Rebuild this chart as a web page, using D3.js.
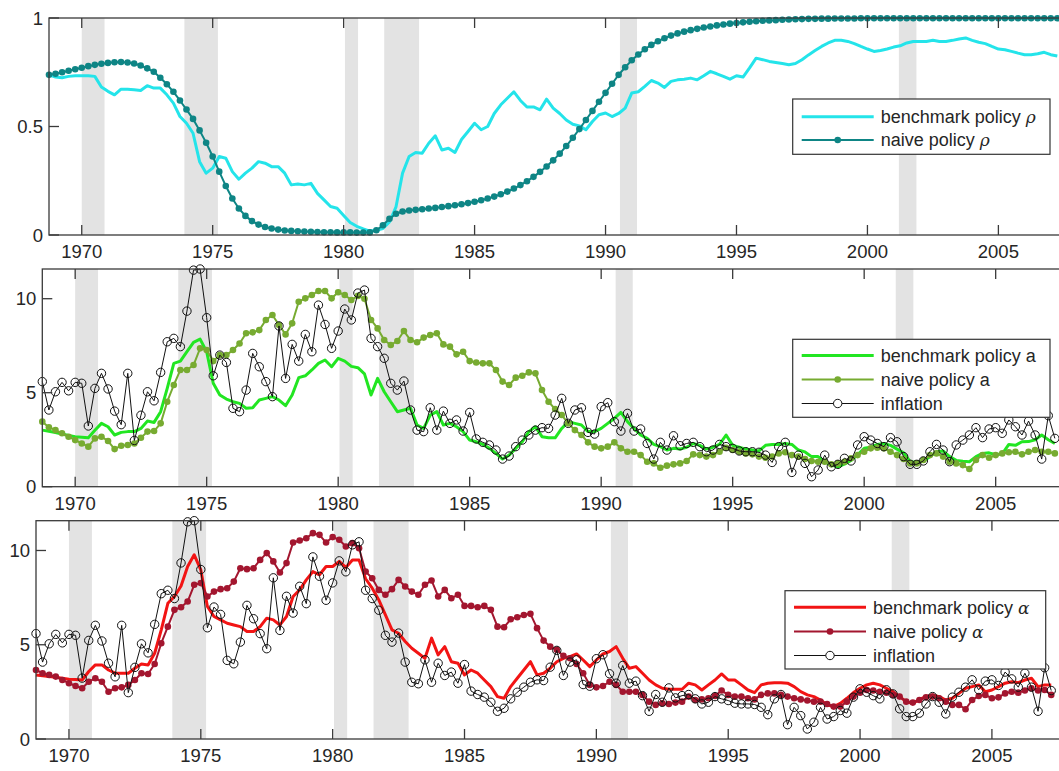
<!DOCTYPE html>
<html>
<head>
<meta charset="utf-8">
<script src="https://cdn.jsdelivr.net/npm/d3@7"></script>
<style>
  body { margin: 0; background: #fff; }
  svg { display: block; }
  text { font-family: "Liberation Sans", Arial, Helvetica, sans-serif; fill: #262626; }
</style>
</head>
<body>
<svg id="chart" width="1059" height="771"></svg>
<script>
// Quarterly observations, first quarter 1968Q4 (1968.75), one row per calendar year.
const firstQuarter = 1968.75;

const benchmarkRho = [
  0.738,
  0.728, 0.725, 0.731, 0.734,
  0.734, 0.734, 0.731, 0.682,
  0.662, 0.646, 0.672, 0.672,
  0.669, 0.666, 0.688, 0.677,
  0.677, 0.646, 0.608, 0.546,
  0.515, 0.469, 0.338, 0.285,
  0.308, 0.362, 0.354, 0.292,
  0.257, 0.285, 0.308, 0.338,
  0.331, 0.315, 0.315, 0.285,
  0.231, 0.235, 0.231, 0.238,
  0.192, 0.162, 0.131, 0.123,
  0.090, 0.058, 0.040, 0.028,
  0.018, 0.022, 0.030, 0.060,
  0.130, 0.285, 0.362, 0.380,
  0.377, 0.423, 0.457, 0.392,
  0.400, 0.380, 0.440, 0.477,
  0.515, 0.485, 0.500, 0.560,
  0.600, 0.630, 0.660, 0.620,
  0.590, 0.590, 0.577, 0.626,
  0.585, 0.560, 0.530, 0.510,
  0.503, 0.485, 0.523, 0.554,
  0.562, 0.546, 0.560, 0.585,
  0.654, 0.660, 0.685, 0.712,
  0.700, 0.680, 0.708, 0.715,
  0.718, 0.723, 0.715, 0.734,
  0.754, 0.743, 0.731, 0.718,
  0.734, 0.728, 0.770, 0.815,
  0.808, 0.800, 0.795, 0.790,
  0.785, 0.790, 0.808, 0.830,
  0.850, 0.869, 0.885, 0.897,
  0.897, 0.892, 0.882, 0.869,
  0.857, 0.846, 0.850, 0.857,
  0.866, 0.872, 0.885, 0.892,
  0.892, 0.892, 0.897, 0.892,
  0.892, 0.897, 0.903, 0.908,
  0.897, 0.888, 0.882, 0.869,
  0.857, 0.854, 0.846, 0.838,
  0.831, 0.831, 0.835, 0.842,
  0.831, 0.825
];

const naiveRho = [
  0.738,
  0.743, 0.750, 0.757, 0.764,
  0.771, 0.778, 0.784, 0.789,
  0.793, 0.796, 0.797, 0.795,
  0.790, 0.781, 0.768, 0.752,
  0.725, 0.695, 0.660, 0.620,
  0.578, 0.535, 0.482, 0.425,
  0.362, 0.292, 0.226, 0.168,
  0.122, 0.088, 0.064, 0.048,
  0.037, 0.030, 0.025, 0.021,
  0.019, 0.017, 0.016, 0.015,
  0.014, 0.013, 0.013, 0.012,
  0.012, 0.012, 0.011, 0.011,
  0.012, 0.022, 0.045, 0.075,
  0.098, 0.108, 0.113, 0.116,
  0.119, 0.122, 0.125, 0.129,
  0.133, 0.137, 0.142, 0.147,
  0.153, 0.160, 0.168, 0.177,
  0.188, 0.200, 0.214, 0.230,
  0.248, 0.268, 0.291, 0.316,
  0.344, 0.375, 0.410, 0.448,
  0.488, 0.530, 0.572, 0.614,
  0.655, 0.697, 0.738, 0.773,
  0.805, 0.832, 0.856, 0.876,
  0.893, 0.907, 0.919, 0.929,
  0.937, 0.944, 0.950, 0.956,
  0.961, 0.966, 0.970, 0.974,
  0.977, 0.980, 0.983, 0.985,
  0.987, 0.989, 0.990, 0.992,
  0.993, 0.994, 0.995, 0.996,
  0.996, 0.997, 0.997, 0.998,
  0.998, 0.998, 0.998, 0.999,
  0.999, 0.999, 0.999, 0.999,
  0.999, 0.999, 0.999, 0.999,
  0.999, 0.999, 0.999, 0.999,
  0.999, 0.999, 0.999, 0.999,
  0.999, 0.999, 0.999, 0.999,
  0.999, 0.999, 0.999, 0.999,
  0.999, 0.999, 0.999, 0.999,
  0.999, 0.999
];

const inflation = [
  5.59,
  4.08, 5.05, 5.55, 5.10,
  5.55, 5.50, 3.23, 5.23,
  6.03, 5.20, 4.02, 3.30,
  6.03, 2.46, 3.80, 5.05,
  4.57, 6.08, 7.71, 7.89,
  7.45, 9.34, 11.52, 11.58,
  8.99, 5.90, 7.00, 6.61,
  4.17, 3.99, 5.14, 7.09,
  6.38, 5.59, 4.79, 8.55,
  5.76, 7.57, 6.68, 8.10,
  7.18, 9.66, 8.63, 7.36,
  8.28, 9.45, 8.87, 10.30,
  10.46, 7.89, 7.45, 6.83,
  5.50, 5.14, 5.62, 4.08,
  3.01, 2.93, 4.20, 3.01,
  4.02, 3.37, 3.55, 2.96,
  3.95, 2.54, 2.36, 2.22,
  1.95, 1.47, 1.63, 2.13,
  2.48, 2.75, 3.01, 3.14,
  3.10, 3.81, 4.70, 3.37,
  4.08, 4.20, 2.89, 2.80,
  4.26, 4.47, 3.46, 2.96,
  3.90, 2.96, 3.07, 2.30,
  1.47, 2.36, 1.95, 2.71,
  2.18, 2.30, 2.36, 2.13,
  1.86, 1.95, 2.25, 2.13,
  2.04, 1.90, 1.86, 1.86,
  1.83, 1.68, 1.29, 2.13,
  2.36, 0.76, 1.68, 1.24,
  0.53, 0.89, 1.68, 1.06,
  1.19, 1.51, 1.37, 2.22,
  2.66, 2.48, 2.30, 2.13,
  2.61, 2.39, 1.60, 1.19,
  1.19, 1.37, 1.86, 2.25,
  1.95, 1.33, 2.22, 2.48,
  2.75, 3.14, 2.61, 3.07,
  3.14, 2.84, 3.55, 3.19,
  2.75, 3.49, 2.75, 1.47,
  3.78, 2.57
];

const benchmarkA = [
  3.01,
  2.95, 2.88, 2.80, 2.72,
  2.66, 2.63, 2.60, 3.00,
  3.37, 3.19, 2.75, 2.89,
  2.93, 2.93, 3.10, 3.49,
  3.42, 3.99, 5.23, 6.56,
  6.68, 7.18, 7.68, 7.85,
  7.18, 5.50, 4.88, 4.66,
  4.52, 4.43, 4.17, 4.20,
  4.61, 4.70, 4.79, 4.61,
  4.31, 4.88, 5.80, 5.90,
  6.21, 6.56, 6.74, 6.38,
  6.83, 6.68, 6.40, 6.33,
  6.00, 4.88, 5.76, 5.05,
  4.52, 3.99, 4.08, 4.17,
  3.28, 3.10, 3.81, 3.99,
  3.28, 3.37, 3.19, 2.93,
  2.48, 2.39, 2.25, 2.04,
  1.77, 1.47, 1.68, 2.04,
  2.39, 2.93, 3.19, 2.66,
  2.60, 2.60, 3.10, 3.46,
  3.37, 3.28, 2.93, 2.93,
  3.10, 3.37, 3.63, 3.95,
  3.46, 3.10, 2.75, 2.57,
  2.25, 2.13, 1.95, 2.04,
  2.00, 2.10, 2.30, 2.20,
  2.00, 2.10, 2.25, 2.75,
  2.20, 2.10, 2.00, 1.95,
  1.90, 2.20, 2.25, 2.25,
  2.30, 2.25, 1.95, 1.85,
  1.60, 1.60, 1.33, 1.15,
  1.06, 1.20, 1.40, 1.70,
  2.04, 2.10, 2.25, 2.30,
  2.20, 2.00, 1.80, 1.33,
  1.30, 1.35, 1.60, 1.86,
  1.90, 1.60, 1.40, 1.35,
  1.33, 1.60, 1.77, 1.80,
  1.70, 1.75, 2.25, 2.20,
  2.39, 2.40, 2.50, 2.75,
  2.50, 2.30
];

const naiveA = [
  3.46,
  3.16, 3.01, 2.84, 2.66,
  2.48, 2.30, 2.13, 2.57,
  2.66, 2.43, 2.00, 2.18,
  2.22, 2.30, 2.60, 2.93,
  2.96, 3.37, 4.52, 5.41,
  6.21, 6.21, 6.47, 7.36,
  7.27, 6.68, 7.00, 7.00,
  7.27, 7.62, 8.16, 8.21,
  8.33, 8.87, 9.13, 8.60,
  8.10, 8.69, 9.84, 10.02,
  10.20, 10.41, 10.41, 10.02,
  10.34, 10.20, 9.93, 10.15,
  10.00, 8.87, 8.42, 7.80,
  7.54, 7.75, 8.28, 7.80,
  7.68, 7.93, 8.07, 8.16,
  7.57, 7.45, 7.04, 7.18,
  6.68, 6.61, 6.56, 6.56,
  6.21, 5.59, 5.41, 5.80,
  5.90, 6.08, 6.03, 5.14,
  4.52, 4.13, 3.81, 3.37,
  3.01, 2.75, 2.36, 2.13,
  2.04, 2.13, 2.36, 2.04,
  1.86, 1.86, 1.68, 1.33,
  1.24, 1.01, 1.12, 1.19,
  1.24, 1.37, 1.72, 1.68,
  1.60, 1.68, 1.86, 2.07,
  1.95, 1.86, 1.77, 1.72,
  1.60, 1.54, 1.60, 1.77,
  1.83, 1.68, 1.60, 1.47,
  1.37, 1.33, 1.33, 1.19,
  1.24, 1.33, 1.51, 1.68,
  1.86, 2.04, 2.07, 2.04,
  1.86, 1.68, 1.47, 1.24,
  1.24, 1.42, 1.68, 1.77,
  1.60, 1.33, 1.24, 1.15,
  0.94, 1.42, 1.68, 1.54,
  1.68, 1.77, 1.83, 1.86,
  1.72, 1.86, 1.95, 1.86,
  1.86, 1.77
];

const benchmarkAlpha = [
  3.40,
  3.35, 3.31, 3.27, 3.22,
  3.17, 3.15, 3.13, 3.58,
  3.93, 3.93, 3.66, 3.49,
  3.49, 3.49, 3.75, 3.98,
  3.93, 4.55, 5.79, 7.20,
  7.56, 8.12, 9.15, 9.77,
  8.97, 7.03, 6.50, 6.32,
  6.14, 6.05, 5.96, 5.70,
  5.70, 5.96, 6.41, 6.32,
  6.05, 6.50, 7.56, 7.91,
  8.44, 8.88, 8.71, 9.15,
  9.15, 9.42, 9.10, 9.50,
  9.50, 8.50, 8.00, 7.38,
  6.58, 5.79, 5.61, 5.17,
  4.81, 4.55, 4.28, 5.35,
  4.46, 4.90, 4.10, 4.02,
  3.40, 3.66, 3.49, 3.13,
  2.78, 2.25, 2.16, 2.78,
  3.22, 3.66, 4.10, 3.40,
  3.49, 3.75, 4.10, 4.28,
  4.37, 4.51, 4.19, 3.84,
  4.19, 4.51, 4.64, 4.90,
  4.28, 3.75, 3.84, 3.49,
  3.13, 2.87, 2.69, 2.64,
  2.64, 2.64, 2.96, 2.87,
  2.60, 2.87, 3.13, 3.45,
  3.13, 3.13, 2.87, 2.60,
  2.46, 2.87, 2.96, 2.99,
  2.99, 2.96, 2.78, 2.51,
  2.34, 2.25, 2.07, 1.81,
  1.72, 1.89, 2.16, 2.46,
  2.69, 2.87, 2.96, 2.87,
  2.69, 2.51, 2.25, 1.98,
  1.89, 2.10, 2.25, 2.34,
  2.25, 2.07, 2.16, 2.42,
  2.69, 2.78, 2.87, 2.51,
  2.60, 2.78, 2.96, 3.04,
  2.99, 3.13, 3.22, 2.78,
  2.87, 2.87
];

const naiveAlpha = [
  3.66,
  3.49, 3.40, 3.31, 3.13,
  2.96, 2.81, 2.69, 3.04,
  3.22, 3.04, 2.51, 2.69,
  2.74, 2.87, 3.13, 3.49,
  3.45, 3.98, 5.08, 5.96,
  6.85, 6.99, 7.29, 8.18,
  8.27, 7.56, 7.82, 7.95,
  8.00, 8.35, 9.06, 9.01,
  9.06, 9.50, 9.86, 9.42,
  8.83, 9.33, 10.42, 10.53,
  10.65, 10.92, 10.83, 10.42,
  10.71, 10.57, 10.21, 10.39,
  10.12, 8.88, 8.53, 7.91,
  7.65, 7.95, 8.44, 8.09,
  7.82, 7.65, 8.18, 8.41,
  7.56, 7.91, 7.47, 7.65,
  7.06, 7.06, 6.99, 7.06,
  6.85, 5.96, 5.93, 6.35,
  6.46, 6.58, 6.64, 5.88,
  5.22, 4.90, 4.73, 4.41,
  4.28, 3.98, 3.49, 2.87,
  2.74, 2.81, 3.04, 2.87,
  2.51, 2.51, 2.51, 2.34,
  1.98, 1.81, 1.89, 1.86,
  1.93, 1.98, 2.25, 2.07,
  2.10, 2.16, 2.28, 2.57,
  2.34, 2.25, 2.25, 2.16,
  2.10, 2.34, 2.42, 2.42,
  2.34, 2.25, 2.16, 2.10,
  2.04, 1.98, 1.98, 1.86,
  1.72, 1.72, 1.98, 2.25,
  2.46, 2.60, 2.57, 2.51,
  2.46, 2.34, 2.25, 1.98,
  1.93, 2.07, 2.21, 2.25,
  2.16, 1.98, 1.81, 1.81,
  1.58, 2.07, 2.28, 2.34,
  2.16, 2.21, 2.42, 2.51,
  2.46, 2.57, 2.69, 2.57,
  2.60, 2.34
];

// NBER recession periods (shaded bands)
const recessionStart = [1970.0, 1973.92, 1980.05, 1981.55, 1990.55, 2001.2];
const recessionEnd   = [1970.87, 1975.2, 1980.55, 1982.88, 1991.2, 2001.87];

const yearTicks = [1970, 1975, 1980, 1985, 1990, 1995, 2000, 2005];
const rhoTicks = [0, 0.5, 1];
const rateTicks = [0, 5, 10];

const quarterOf = i => firstQuarter + i / 4;

// ---- panel layout ----
const svg = d3.select("#chart");
const xDomain = [1968.75, 2008];

const colors = {
  cyan: "#24e4ea", teal: "#0e8585",
  green: "#22e622", olive: "#77ab31",
  red: "#f21414", maroon: "#a3162f",
  band: "#e3e3e3", axis: "#3a3a3a"
};

const panels = [
  {
    left: 49, top: 18, bottom: 235, yearPx: 26.19, yMax: 1, yTicks: rhoTicks,
    series: [
      { values: benchmarkRho, color: colors.cyan, width: 3, marker: null, label: ["benchmark policy ", "ρ"] },
      { values: naiveRho, color: colors.teal, width: 2, marker: "dot", label: ["naive policy ", "ρ"] }
    ],
    legend: { x: 792.7, y: 99, w: 257.3, h: 55.3, rows: [116.7, 140] }
  },
  {
    left: 42.3, top: 269, bottom: 486.7, yearPx: 26.3, yMax: d3.max(inflation), yTicks: rateTicks,
    series: [
      { values: benchmarkA, color: colors.green, width: 3, marker: null, label: ["benchmark policy a", null] },
      { values: naiveA, color: colors.olive, width: 2, marker: "dot", label: ["naive policy a", null] },
      { values: inflation, color: "#111", width: 1, marker: "ring", label: ["inflation", null] }
    ],
    legend: { x: 792.7, y: 339.3, w: 257.3, h: 78, rows: [355.5, 379.5, 403.5] }
  },
  {
    left: 36, top: 520.7, bottom: 739, yearPx: 26.37, yMax: d3.max(inflation), yTicks: rateTicks,
    series: [
      { values: benchmarkAlpha, color: colors.red, width: 3, marker: null, label: ["benchmark policy ", "α"] },
      { values: naiveAlpha, color: colors.maroon, width: 2, marker: "dot", label: ["naive policy ", "α"] },
      { values: inflation, color: "#111", width: 1, marker: "ring", label: ["inflation", null] }
    ],
    legend: { x: 785, y: 590.7, w: 260.7, h: 78.3, rows: [607.3, 631.5, 655.5] }
  }
];

panels.forEach(p => {
  const x = d3.scaleLinear().domain(xDomain)
    .range([p.left, p.left + (xDomain[1] - xDomain[0]) * p.yearPx]);
  const y = d3.scaleLinear().domain([0, p.yMax]).range([p.bottom, p.top]);
  const right = x.range()[1];
  const g = svg.append("g");

  // recession shading
  g.selectAll("rect.band").data(d3.range(recessionStart.length)).join("rect")
    .attr("class", "band")
    .attr("x", i => x(recessionStart[i]))
    .attr("width", i => x(recessionEnd[i]) - x(recessionStart[i]))
    .attr("y", p.top).attr("height", p.bottom - p.top)
    .attr("fill", colors.band);

  // series
  p.series.forEach(s => {
    const pts = s.values.map((v, i) => [quarterOf(i), v]);
    const line = d3.line().x(d => x(d[0])).y(d => y(d[1]));
    g.append("path").attr("d", line(pts))
      .attr("fill", "none").attr("stroke", s.color)
      .attr("stroke-width", s.width).attr("stroke-linejoin", "round");
    if (s.marker === "dot") {
      g.append("g").selectAll("circle").data(pts).join("circle")
        .attr("cx", d => x(d[0])).attr("cy", d => y(d[1])).attr("r", 3.3)
        .attr("fill", s.color);
    } else if (s.marker === "ring") {
      g.append("g").selectAll("circle").data(pts).join("circle")
        .attr("cx", d => x(d[0])).attr("cy", d => y(d[1])).attr("r", 4.2)
        .attr("fill", "none").attr("stroke", s.color).attr("stroke-width", 1);
    }
  });

  // axes box with inward ticks
  const tickLen = 10;
  const axisG = g.append("g").attr("stroke", colors.axis).attr("stroke-width", 1.3);
  axisG.append("rect").attr("x", p.left).attr("y", p.top)
    .attr("width", right - p.left).attr("height", p.bottom - p.top).attr("fill", "none");
  yearTicks.forEach(t => {
    axisG.append("line").attr("x1", x(t)).attr("x2", x(t)).attr("y1", p.bottom).attr("y2", p.bottom - tickLen);
    axisG.append("line").attr("x1", x(t)).attr("x2", x(t)).attr("y1", p.top).attr("y2", p.top + tickLen);
  });
  p.yTicks.forEach(t => {
    axisG.append("line").attr("x1", p.left).attr("x2", p.left + tickLen).attr("y1", y(t)).attr("y2", y(t));
    axisG.append("line").attr("x1", right).attr("x2", right - tickLen).attr("y1", y(t)).attr("y2", y(t));
  });

  // tick labels
  g.append("g").selectAll("text").data(yearTicks).join("text")
    .attr("x", d => x(d)).attr("y", p.bottom + 23)
    .attr("text-anchor", "middle").attr("font-size", 18.5)
    .text(d => d);
  g.append("g").selectAll("text").data(p.yTicks).join("text")
    .attr("x", p.left - 6).attr("y", d => y(d) + 6.5)
    .attr("text-anchor", "end").attr("font-size", 18.5)
    .text(d3.format("~g"));

  // legend
  const L = p.legend;
  const lg = g.append("g");
  lg.append("rect").attr("x", L.x).attr("y", L.y).attr("width", L.w).attr("height", L.h)
    .attr("fill", "#fff").attr("stroke", "#333").attr("stroke-width", 1.2);
  p.series.forEach((s, k) => {
    const ry = L.rows[k];
    const x0 = L.x + 9, x1 = L.x + 81;
    lg.append("line").attr("x1", x0).attr("x2", x1).attr("y1", ry).attr("y2", ry)
      .attr("stroke", s.color).attr("stroke-width", s.width);
    if (s.marker === "dot") {
      lg.append("circle").attr("cx", (x0 + x1) / 2).attr("cy", ry).attr("r", 3.3).attr("fill", s.color);
    } else if (s.marker === "ring") {
      lg.append("circle").attr("cx", (x0 + x1) / 2).attr("cy", ry).attr("r", 4.2)
        .attr("fill", "#fff").attr("stroke", s.color).attr("stroke-width", 1);
    }
    const t = lg.append("text").attr("x", L.x + 88).attr("y", ry + 6.3).attr("font-size", 18);
    t.append("tspan").text(s.label[0]);
    if (s.label[1]) {
      t.append("tspan").attr("font-family", "'DejaVu Serif', 'Liberation Serif', serif")
        .attr("font-style", "italic").attr("font-size", 17).text(s.label[1]);
    }
  });
});
</script>
</body>
</html>
